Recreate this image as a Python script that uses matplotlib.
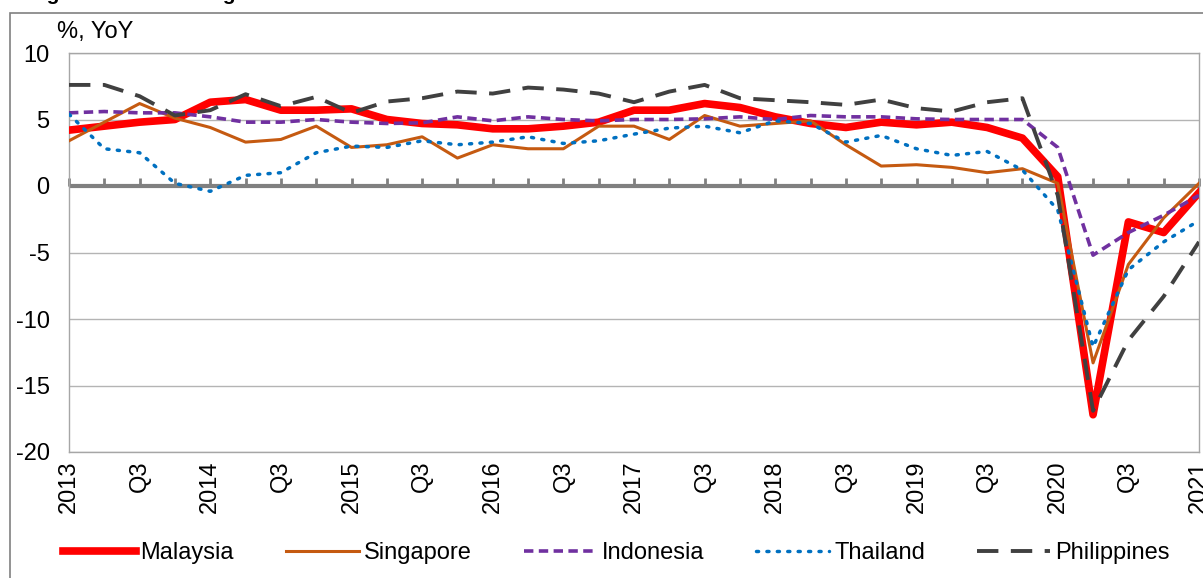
import matplotlib.pyplot as plt
from matplotlib.patches import Rectangle

plt.rcParams['font.family'] = ['Liberation Sans', 'DejaVu Sans']
plt.rcParams['axes.unicode_minus'] = False

# quarterly YoY growth, 2013 Q1 .. 2021 Q1
quarters = list(range(33))
tick_labels = []
for yr in range(2013, 2021):
    tick_labels += [str(yr), 'Q3']
tick_labels.append('2021')

malaysia = [4.2, 4.5, 4.8, 5.0, 6.3, 6.5, 5.7, 5.7, 5.8, 5.0, 4.7, 4.6,
            4.3, 4.3, 4.5, 4.8, 5.7, 5.7, 6.2, 5.9, 5.2, 4.7, 4.4, 4.8,
            4.6, 4.8, 4.4, 3.6, 0.7, -17.2, -2.7, -3.5, -0.5]
singapore = [3.4, 4.8, 6.2, 5.1, 4.4, 3.3, 3.5, 4.5, 2.9, 3.1, 3.7, 2.1,
             3.1, 2.8, 2.8, 4.5, 4.5, 3.5, 5.3, 4.5, 4.7, 4.9, 3.1, 1.5,
             1.6, 1.4, 1.0, 1.3, 0.2, -13.3, -5.9, -2.4, 0.2]
indonesia = [5.5, 5.6, 5.5, 5.5, 5.2, 4.8, 4.8, 5.0, 4.8, 4.7, 4.75, 5.2,
             4.9, 5.2, 5.0, 4.9, 5.0, 5.0, 5.05, 5.2, 5.0, 5.3, 5.2, 5.2,
             5.05, 5.0, 5.0, 5.0, 2.9, -5.2, -3.5, -2.2, -0.7]
thailand = [5.4, 2.8, 2.5, 0.2, -0.4, 0.8, 1.0, 2.5, 3.0, 2.9, 3.4, 3.1,
            3.3, 3.7, 3.2, 3.4, 3.9, 4.35, 4.5, 4.0, 4.9, 4.7, 3.3, 3.8,
            2.8, 2.3, 2.6, 1.2, -1.8, -12.1, -6.3, -4.2, -2.6]
philippines = [7.6, 7.6, 6.75, 5.3, 5.7, 6.9, 6.0, 6.7, 5.5, 6.35, 6.6, 7.1,
               6.95, 7.4, 7.25, 6.95, 6.3, 7.1, 7.6, 6.6, 6.45, 6.3, 6.1, 6.5,
               5.85, 5.6, 6.3, 6.6, -0.7, -16.9, -11.6, -8.3, -4.2]

fig = plt.figure(figsize=(12.03, 5.78), dpi=100)
ax = fig.add_axes([69 / 1203, 126 / 578, 1130 / 1203, 399 / 578])

ax.plot(quarters, malaysia, color='#FF0000', lw=5.5, label='Malaysia', zorder=3)
ax.plot(quarters, singapore, color='#C55A11', lw=2.2, label='Singapore', zorder=4)
ax.plot(quarters, indonesia, color='#7030A0', lw=2.6, dashes=(2.6, 1.5), label='Indonesia', zorder=4)
ax.plot(quarters, thailand, color='#0070C0', lw=2.5, dashes=(0.6, 2.4),
        dash_capstyle='round', label='Thailand', zorder=4)
ax.plot(quarters, philippines, color='#404040', lw=2.8, dashes=(5.5, 3.2), label='Philippines', zorder=4)

ax.set_xlim(0, 32)
ax.set_ylim(-20, 10)
ax.set_yticks(range(-20, 11, 5))
ax.tick_params(axis='y', length=0, pad=14, labelsize=17)
ax.grid(axis='y', color='#B4B4B4', lw=1)
ax.set_axisbelow(True)
for s in ax.spines.values():
    s.set_color('#A6A6A6')
    s.set_linewidth(1)

# category labels at the bottom, every second quarter
ax.set_xticks(quarters[::2])
ax.set_xticklabels(tick_labels, rotation=90, fontsize=17)
ax.tick_params(axis='x', length=0, pad=6)

# zero axis line with quarterly tick marks
ax.axhline(0, color='#808080', lw=3, zorder=2)
zero_ax = ax.secondary_xaxis((0 - (-20)) / 30)
zero_ax.set_xticks(quarters)
zero_ax.set_xticklabels([])
zero_ax.tick_params(axis='x', direction='out', length=6, width=2, color='#808080')
zero_ax.spines['bottom'].set_visible(False)

fig.text(57 / 1203, 1 - 32 / 578, '%, YoY', fontsize=17, va='center')
fig.text(28 / 1203, 1.0, 'Figure 1: Real GDP growth', fontsize=15,
         fontweight='bold', va='baseline')

fig.add_artist(Rectangle((10 / 1203, -0.1), 1.2, 1.1 - 13 / 578,
                         transform=fig.transFigure, fill=False,
                         edgecolor='#808080', lw=1.2))

ax.legend(loc='center', bbox_to_anchor=(616 / 1203, 25 / 578), bbox_transform=fig.transFigure,
          ncol=5, frameon=False, fontsize=17, handlelength=3.1,
          handletextpad=0.2, columnspacing=2.2)

fig.savefig('out.png', dpi=100)
